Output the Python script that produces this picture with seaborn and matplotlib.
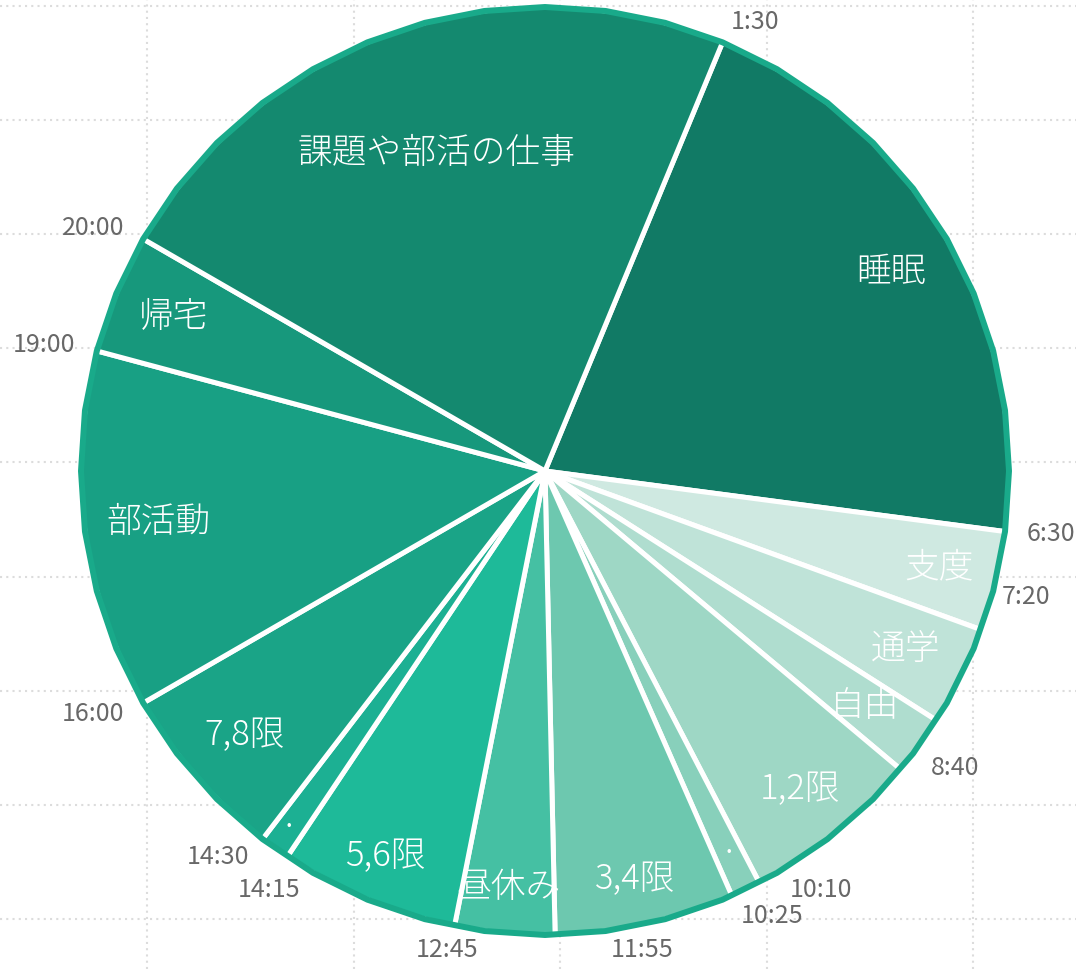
import numpy as np
import matplotlib
matplotlib.use("Agg")
import matplotlib.pyplot as plt
from matplotlib.patches import Polygon
import seaborn as sns

# 一日のスケジュール（開始時刻と所要時間[分]）
activities = ["睡眠", "支度", "通学", "自由", "1,2限", "·", "3,4限", "昼休み",
              "5,6限", "·", "7,8限", "部活動", "帰宅", "課題や部活の仕事"]
start_times = ["1:30", "6:30", "7:20", "8:10", "8:40", "10:10", "10:25", "11:55",
               "12:45", "14:15", "14:30", "16:00", "19:00", "20:00"]
minutes = [300, 50, 50, 30, 90, 15, 90, 50, 90, 15, 90, 180, 60, 330]
# 外側に表示する時刻ラベル（8:10 は表示なし）
time_labels = ["1:30", "6:30", "7:20", "", "8:40", "10:10", "10:25", "11:55",
               "12:45", "14:15", "14:30", "16:00", "19:00", "20:00"]
colors = ["#117A65", "#CFE9E1", "#BFE3D8", "#AFDDCF", "#9ED7C5", "#88D0BB",
          "#6DC8AF", "#45C0A3", "#1EBA99", "#1CB093", "#1AA487", "#18A084",
          "#17987C", "#14896F"]

sns.set_theme(style="whitegrid")
plt.rcParams["font.family"] = ["Noto Sans CJK JP", "DejaVu Sans"]

W, H = 1076, 969
fig = plt.figure(figsize=(W / 100, H / 100), dpi=100)
ax = fig.add_axes([0, 0, 1, 1])

cx, cy = 545, H - 471
R = 464


def to_hours(t):
    h, m = t.split(":")
    return int(h) + int(m) / 60


start_deg = 90 - to_hours(start_times[0]) * 15
ax.pie(minutes, colors=colors, startangle=start_deg, counterclock=False,
       radius=R, center=(cx, cy), frame=True,
       wedgeprops=dict(edgecolor="white", linewidth=3.6))

# 外枠（30分ごとの多角形）
phi = np.deg2rad(np.arange(0, 360, 7.5))
ax.add_patch(Polygon(np.column_stack([cx + R * np.sin(phi), cy + R * np.cos(phi)]),
                     closed=True, fill=False, edgecolor="#19AA8A",
                     linewidth=4.3, joinstyle="round", zorder=3))

# 時刻ラベル
nudge = {"7:20": (0, 40), "8:40": (14, 15), "10:10": (20, 12),
         "11:55": (55, 7), "12:45": (28, -2), "14:15": (25, -15)}
for t, lab in zip(start_times, time_labels):
    if not lab:
        continue
    a = np.deg2rad(to_hours(t) * 15)
    x = cx + 486 * np.sin(a)
    y = cy + 486 * np.cos(a)
    dx, dy = nudge.get(lab, (0, 0))
    ax.text(x + dx, y + dy, lab, ha="left" if np.sin(a) > 0.01 else "right",
            va="center", fontsize=18, color="#686868", zorder=4)

# スライス内のラベル
label_r = [399, 406, 402, 397, 408, 425, 418, 418, 417, 439, 400, 390, 402, 336]
acc = to_hours(start_times[0]) * 60
for lab, m, r in zip(activities, minutes, label_r):
    a = np.deg2rad((acc + m / 2) / 4)
    acc += m
    ax.text(cx + r * np.sin(a), cy + r * np.cos(a), lab, ha="center", va="center",
            fontsize=25, color="white", fontweight="light", zorder=4)

ax.set_xlim(0, W)
ax.set_ylim(0, H)
ax.set_aspect("equal")
ax.set_xticks(np.arange(147, W, 206.5))
ax.set_yticks(H - np.arange(6, H, 114.1))
ax.tick_params(length=0, labelbottom=False, labelleft=False)
ax.grid(True, color="#dcdcdc", linestyle=(0, (1, 2)), linewidth=1.5)
ax.set_axisbelow(True)
for s in ax.spines.values():
    s.set_visible(False)

fig.savefig("out.png", dpi=100, facecolor="white")
